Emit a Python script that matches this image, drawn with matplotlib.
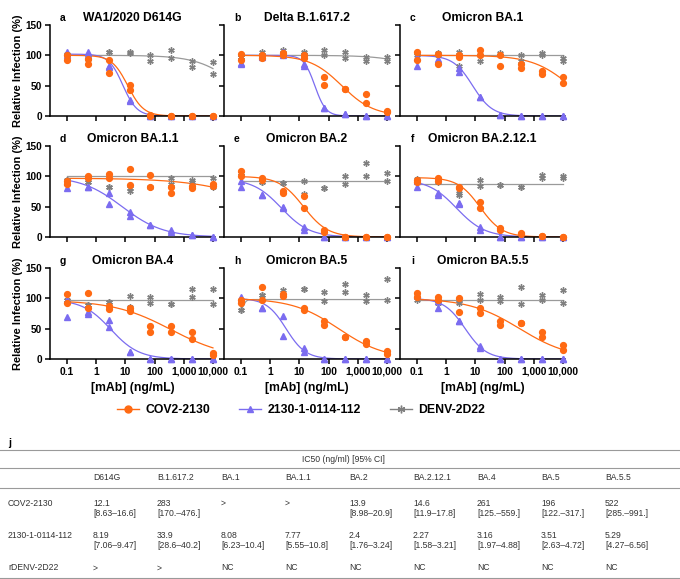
import numpy as np
import matplotlib.pyplot as plt
from matplotlib.lines import Line2D

plt.rcParams['font.family'] = ['Liberation Sans', 'DejaVu Sans']

W, H = 680, 579

# mAb concentrations (ng/mL), 8-point dilution
conc = [0.1, 0.52, 2.7, 13.9, 72, 373, 1930, 10000]

letters = ['a', 'b', 'c', 'd', 'e', 'f', 'g', 'h', 'i']
titles = ['WA1/2020 D614G', 'Delta B.1.617.2', 'Omicron BA.1',
          'Omicron BA.1.1', 'Omicron BA.2', 'Omicron BA.2.12.1',
          'Omicron BA.4', 'Omicron BA.5', 'Omicron BA.5.5']

# relative infection (%), duplicates per concentration
cov_a = [[101, 93], [94, 85], [93, 71], [51, 43], [1, 0], [0, 0], [0, 0], [0, 0]]
mab_a = [[106, 101], [105, 101], [82, 80], [26, 24], [0, 0], [0, 0], [0, 0], [0, 0]]
denv_a = [[103, 100], [97, 94], [105, 105], [106, 104], [101, 90], [108, 96], [90, 80], [89, 70]]

cov_b = [[103, 93], [100, 96], [104, 100], [100, 96], [64, 51], [45, 45], [36, 22], [9, 6]]
mab_b = [[87, 86], [99, 97], [105, 101], [85, 82], [13, 13], [4, 3], [0, 0], [0, 0]]
denv_b = [[98, 98], [105, 100], [109, 104], [105, 102], [109, 100], [105, 96], [98, 90], [97, 90]]

cov_c = [[105, 93], [103, 85], [100, 97], [109, 100], [101, 82], [85, 79], [75, 70], [64, 54]]
mab_c = [[98, 82], [94, 91], [79, 73], [32, 32], [2, 2], [0, 0], [0, 0], [0, 0]]
denv_c = [[104, 100], [104, 100], [105, 82], [100, 90], [104, 100], [100, 90], [104, 100], [96, 91]]

cov_d = [[92, 87], [100, 97], [104, 97], [112, 86], [102, 83], [83, 73], [84, 80], [87, 84]]
mab_d = [[90, 80], [83, 83], [73, 54], [41, 34], [20, 20], [11, 9], [3, 3], [0, 0]]
denv_d = [[94, 94], [91, 91], [83, 82], [80, 76], [83, 83], [98, 87], [94, 90], [98, 83]]

cov_e = [[108, 101], [97, 94], [76, 72], [68, 47], [11, 8], [0, 0], [0, 0], [0, 0]]
mab_e = [[93, 82], [69, 69], [50, 47], [17, 12], [0, 0], [0, 0], [0, 0], [0, 0]]
denv_e = [[106, 106], [90, 90], [89, 89], [93, 71], [80, 80], [101, 87], [122, 100], [106, 92]]

cov_f = [[94, 90], [97, 93], [83, 80], [57, 47], [15, 12], [6, 5], [2, 2], [0, 0]]
mab_f = [[93, 83], [73, 69], [56, 54], [17, 11], [0, 0], [0, 0], [0, 0], [0, 0]]
denv_f = [[95, 90], [95, 90], [73, 69], [94, 84], [86, 86], [83, 83], [102, 97], [101, 97]]

cov_g = [[107, 92], [108, 84], [87, 82], [84, 79], [55, 45], [55, 44], [45, 33], [10, 7]]
mab_g = [[97, 69], [78, 75], [64, 53], [12, 12], [0, 0], [0, 0], [0, 0], [0, 0]]
denv_g = [[97, 97], [89, 89], [94, 94], [104, 86], [102, 92], [91, 91], [116, 102], [116, 91]]

cov_h = [[97, 93], [118, 97], [107, 104], [84, 81], [63, 56], [36, 36], [29, 25], [14, 8]]
mab_h = [[102, 98], [84, 84], [71, 38], [18, 12], [0, 0], [0, 0], [0, 0], [0, 0]]
denv_h = [[80, 80], [105, 105], [113, 105], [116, 116], [111, 95], [124, 111], [105, 95], [132, 98]]

cov_i = [[108, 103], [103, 98], [100, 78], [84, 76], [62, 56], [60, 60], [45, 36], [23, 15]]
mab_i = [[105, 105], [95, 84], [63, 63], [21, 18], [0, 0], [0, 0], [0, 0], [0, 0]]
denv_i = [[102, 97], [93, 93], [97, 92], [107, 97], [102, 95], [118, 91], [105, 98], [114, 93]]

cov_pts = [cov_a, cov_b, cov_c, cov_d, cov_e, cov_f, cov_g, cov_h, cov_i]
mab_pts = [mab_a, mab_b, mab_c, mab_d, mab_e, mab_f, mab_g, mab_h, mab_i]
denv_pts = [denv_a, denv_b, denv_c, denv_d, denv_e, denv_f, denv_g, denv_h, denv_i]

# fitted curves: (top, bottom, IC50, hill)
cov_fit = [(100, 0, 12.1, 1.6), (100, 0, 283, 0.8), (100, 0, 18000, 0.665),
           (97, 0, 1.3e6, 0.35), (100, 0, 13.9, 1.05), (98, 0, 14.6, 1.15),
           (97, 0, 365, 0.44), (100, 0, 220, 0.55), (100, 0, 330, 0.5)]
mab_fit = [(102, 0, 8.19, 1.8), (100, 0, 33.9, 2.3), (100, 0, 8.08, 1.3),
           (100, 0, 7.77, 0.62), (96, 0, 2.4, 0.9), (95, 0, 2.27, 0.9),
           (98, 0, 3.16, 0.9), (100, 0, 3.51, 1.3), (100, 0, 4.5, 1.2)]
denv_fit = [(100, 0, 71000, 0.65), (100, 0, 1e6, 0.6), (100, 100, 1, 1),
            (100, 100, 1, 1), (92, 92, 1, 1), (88, 88, 1, 1),
            (98, 98, 1, 1), (77, 98, 0.12, 8), (97, 97, 1, 1)]

xticks = [0.1, 1, 10, 100, 1000, 10000]
xticklabels = ['0.1', '1', '10', '100', '1,000', '10,000']

# table
tab_cols = ['D614G', 'B.1.617.2', 'BA.1', 'BA.1.1', 'BA.2', 'BA.2.12.1', 'BA.4', 'BA.5', 'BA.5.5']
tab_rows = ['COV2-2130', '2130-1-0114-112', 'rDENV-2D22']
cov_ic50 = ['12.1', '283', '>', '>', '13.9', '14.6', '261', '196', '522']
cov_ci = ['[8.63–16.6]', '[170.–476.]', '', '', '[8.98–20.9]', '[11.9–17.8]',
          '[125.–559.]', '[122.–317.]', '[285.–991.]']
mab_ic50 = ['8.19', '33.9', '8.08', '7.77', '2.4', '2.27', '3.16', '3.51', '5.29']
mab_ci = ['[7.06–9.47]', '[28.6–40.2]', '[6.23–10.4]', '[5.55–10.8]', '[1.76–3.24]',
          '[1.58–3.21]', '[1.97–4.88]', '[2.63–4.72]', '[4.27–6.56]']
denv_ic50 = ['>', '>', 'NC', 'NC', 'NC', 'NC', 'NC', 'NC', 'NC']

c_cov = '#FF6A13'
c_mab = '#7B6CF0'
c_denv = '#808080'


def fourpl(x, p):
    top, bottom, ic, hill = p
    return bottom + (top - bottom) / (1 + (x / ic) ** hill)


def fx(px):
    return px / W


def fy(py):
    return 1 - py / H


fig = plt.figure(figsize=(W / 100, H / 100), dpi=100)

lefts = [50, 224, 400]
tops = [25, 146, 268]
aw, ah = 165, 91
xfit = np.logspace(-1, 4, 300)
xc = np.array(conc)

for k in range(9):
    r, c = divmod(k, 3)
    ax = fig.add_axes([fx(lefts[c]), fy(tops[r] + ah), aw / W, ah / H])
    ax.set_xscale('log')
    ax.set_xlim(0.0263, 11750)
    ax.set_ylim(0, 150)

    ax.plot(xfit, fourpl(xfit, denv_fit[k]), color='#9a9a9a', lw=0.9, zorder=2)
    ax.plot(xfit, fourpl(xfit, mab_fit[k]), color=c_mab, lw=0.9, zorder=2)
    ax.plot(xfit, fourpl(xfit, cov_fit[k]), color=c_cov, lw=0.9, zorder=2)
    d = np.array(denv_pts[k])
    m = np.array(mab_pts[k])
    o = np.array(cov_pts[k])
    for j in range(2):
        ax.plot(xc, d[:, j], ls='none', marker=(6, 2, 0), ms=4.6, mew=1.0,
                color=c_denv, clip_on=False, zorder=4)
        ax.plot(xc, m[:, j], ls='none', marker='^', ms=4.2, color=c_mab,
                clip_on=False, zorder=5)
        ax.plot(xc, o[:, j], ls='none', marker='o', ms=4.2, color=c_cov,
                clip_on=False, zorder=6)

    for s in ['top', 'right']:
        ax.spines[s].set_visible(False)
    for s in ['left', 'bottom']:
        ax.spines[s].set_linewidth(1.1)
    ax.set_yticks([0, 50, 100, 150])
    ax.set_xticks(xticks)
    ax.minorticks_off()
    ax.tick_params(length=3.5, width=1.1, pad=2)
    if c == 0:
        ax.set_yticklabels(['0', '50', '100', '150'], fontsize=7.2, fontweight='bold')
    else:
        ax.set_yticklabels([])
    if r == 2:
        ax.set_xticklabels(xticklabels, fontsize=7.4, fontweight='bold')
        fig.text(fx(lefts[c] + aw / 2), fy(388), '[mAb] (ng/mL)', ha='center',
                 va='center', fontsize=8.8, fontweight='bold')
    else:
        ax.set_xticklabels([])

    fig.text(fx(lefts[c] + 13), fy(tops[r] - 7), letters[k], ha='center',
             va='center', fontsize=7.5, fontweight='bold')
    fig.text(fx(lefts[c] + aw / 2), fy(tops[r] - 7), titles[k], ha='center',
             va='center', fontsize=8.7, fontweight='bold')

for r in range(3):
    fig.text(fx(18), fy(tops[r] + ah / 2), 'Relative Infection (%)', rotation=90,
             ha='center', va='center', fontsize=8, fontweight='bold')

handles = [
    Line2D([], [], color=c_cov, marker='o', ms=5, lw=1),
    Line2D([], [], color=c_mab, marker='^', ms=5, lw=1),
    Line2D([], [], color=c_denv, marker=(6, 2, 0), ms=5.5, mew=1.0, lw=1),
]
leg = fig.legend(handles, ['COV2-2130', '2130-1-0114-112', 'DENV-2D22'],
                 loc='center', bbox_to_anchor=(fx(301), fy(410)), ncol=3,
                 frameon=False, handlelength=1.8, handletextpad=0.5,
                 columnspacing=2.4, prop={'weight': 'bold', 'size': 8.8})

# ---- table j ----
tcol = '#333333'
tfs = 6.2
fig.text(fx(8), fy(443), 'j', ha='left', va='center', fontsize=7.5,
         fontweight='bold', color='black')
for yl in [450, 468, 488, 578]:
    fig.add_artist(Line2D([0, 1], [fy(yl), fy(yl)], color='#9a9a9a', lw=0.8))
fig.text(fx(343), fy(459), 'IC50 (ng/ml) [95% CI]', ha='center', va='center',
         fontsize=tfs, color=tcol)

col_x = [93 + 64 * i for i in range(9)]
for i, name in enumerate(tab_cols):
    fig.text(fx(col_x[i]), fy(478), name, ha='left', va='center', fontsize=tfs, color=tcol)

row_y = [503, 535, 568]
for i, name in enumerate(tab_rows):
    fig.text(fx(8), fy(row_y[i]), name, ha='left', va='center', fontsize=tfs, color=tcol)

for i in range(9):
    fig.text(fx(col_x[i]), fy(row_y[0]), cov_ic50[i], ha='left', va='center', fontsize=tfs, color=tcol)
    fig.text(fx(col_x[i]), fy(row_y[0] + 11), cov_ci[i], ha='left', va='center', fontsize=tfs, color=tcol)
    fig.text(fx(col_x[i]), fy(row_y[1]), mab_ic50[i], ha='left', va='center', fontsize=tfs, color=tcol)
    fig.text(fx(col_x[i]), fy(row_y[1] + 11), mab_ci[i], ha='left', va='center', fontsize=tfs, color=tcol)
    fig.text(fx(col_x[i]), fy(row_y[2]), denv_ic50[i], ha='left', va='center', fontsize=tfs, color=tcol)

fig.savefig('out.png', dpi=100)
